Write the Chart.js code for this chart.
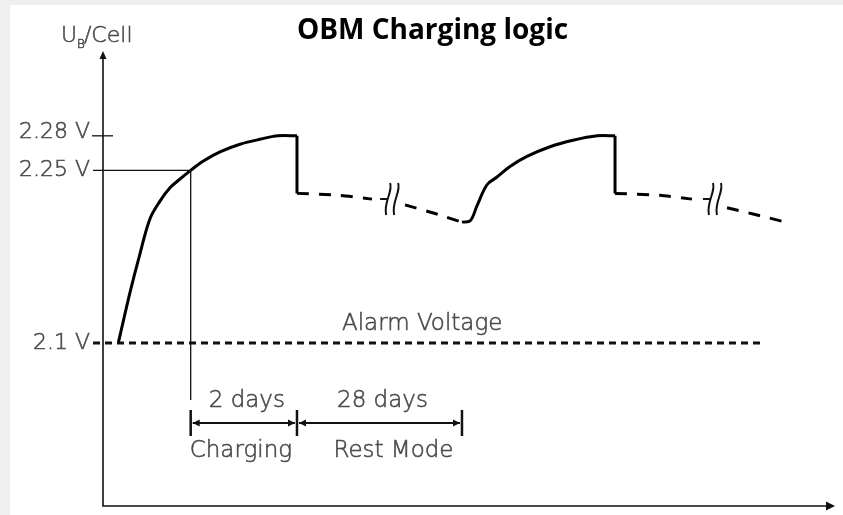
<!DOCTYPE html>
<html><head><meta charset="utf-8">
<script src="https://cdn.jsdelivr.net/npm/chart.js@4.4.1/dist/chart.umd.min.js"></script>
<style>
html,body{margin:0;padding:0;background:#efefef;width:843px;height:515px;overflow:hidden}
#wrap{position:absolute;left:10px;top:5px;width:833px;height:510px;background:#fff}
</style></head><body>
<div id="wrap"><canvas id="c"></canvas></div>
<script>
// Time axis in schematic units (0..100); voltage per cell in V
const charge1T = [2.09, 3.69, 5.05, 6.42, 7.79, 9.15, 10.52, 11.98, 13.66, 15.98, 18.72, 21.45, 23.91, 26.5];
const charge1V = [2.10, 2.144, 2.1775, 2.208, 2.2233, 2.2348, 2.2425, 2.25, 2.2579, 2.2661, 2.2727, 2.2770, 2.28, 2.28];
const drop1T = [26.5, 26.5];
const drop1V = [2.28, 2.23];
const rest1T = [26.5, 32.38, 36.75, 41.26, 45.36, 49.04];
const rest1V = [2.23, 2.2283, 2.225, 2.22, 2.2125, 2.205];
const charge2T = [49.04, 50.2, 51.09, 52.46, 53.83, 55.6, 57.92, 61.07, 64.2, 67.5, 69.95];
const charge2V = [2.205, 2.2065, 2.2192, 2.2375, 2.2442, 2.2533, 2.2621, 2.2705, 2.2761, 2.28, 2.28];
const drop2T = [69.95, 69.95];
const drop2V = [2.28, 2.23];
const rest2T = [69.95, 76.09, 80.46, 85.25, 89.07, 92.76];
const rest2V = [2.23, 2.2283, 2.225, 2.2175, 2.2117, 2.2058];
const breakT = [39.5, 83.6];
const breakV = [2.2225, 2.2225];

const yTickValues = [2.1, 2.25, 2.28];
const yTickLabels = ['2.1 V', '2.25 V', '2.28 V'];
const crossT = 11.98;           // charging curve reaches 2.25 V
const crossV = 2.25;
const alarmV = 2.1;
const alarmEndT = 90.4;
const alarmLabelT = 43.6;
const alarmLabel = 'Alarm Voltage';
const periodBounds = [11.98, 26.5, 49.04];
const periodTop = ['2 days', '28 days'];
const periodBottom = ['Charging', 'Rest Mode'];
const titleText = 'OBM Charging logic';
const yAxisLabel = ['U', 'B', '/Cell'];

function zip(ts, vs, gaps) {
  const pts = [];
  for (let i = 0; i < ts.length; i++) {
    if (gaps && i > 0) {
      for (const g of gaps) {
        if (ts[i - 1] < g && ts[i] > g) pts.push({x: g, y: null});
      }
    }
    pts.push({x: ts[i], y: vs[i]});
  }
  return pts;
}

const solid = {borderColor: '#000', borderWidth: 3, pointRadius: 0, fill: false};
const dashed = {borderColor: '#000', borderWidth: 3, pointRadius: 0, fill: false, borderDash: [12, 10], spanGaps: false};

const FONT = '"DejaVu Sans", sans-serif';
const GRAY = '#4a4a4a';

function label(ctx, text, x, y) {
  ctx.fillText(text, x, y);
  ctx.strokeText(text, x, y);
}

const diagram = {
  id: 'diagram',
  afterDraw(chart) {
    const ctx = chart.ctx, xs = chart.scales.x, ys = chart.scales.y, ca = chart.chartArea;
    const X = t => xs.getPixelForValue(t), Y = v => ys.getPixelForValue(v);
    ctx.save();
    ctx.strokeStyle = '#111'; ctx.fillStyle = '#111';
    // axes
    ctx.lineWidth = 1.6;
    ctx.beginPath();
    ctx.moveTo(ca.left, ca.top + 3); ctx.lineTo(ca.left, ca.bottom); ctx.lineTo(ca.right - 4, ca.bottom);
    ctx.stroke();
    ctx.beginPath();
    ctx.moveTo(ca.left, ca.top - 2); ctx.lineTo(ca.left - 3.5, ca.top + 6); ctx.lineTo(ca.left + 3.5, ca.top + 6); ctx.closePath(); ctx.fill();
    ctx.beginPath();
    ctx.moveTo(ca.right, ca.bottom); ctx.lineTo(ca.right - 9, ca.bottom - 4.5); ctx.lineTo(ca.right - 9, ca.bottom + 4.5); ctx.closePath(); ctx.fill();

    // 2.28 tick
    ctx.lineWidth = 1.3;
    ctx.beginPath(); ctx.moveTo(ca.left - 11, Y(2.28)); ctx.lineTo(ca.left + 10, Y(2.28)); ctx.stroke();
    // 2.25 line & vertical marker
    ctx.beginPath(); ctx.moveTo(ca.left - 10, Y(crossV)); ctx.lineTo(X(crossT), Y(crossV));
    ctx.lineTo(X(crossT), ca.bottom - 106); ctx.stroke();
    // alarm line
    ctx.lineWidth = 3;
    ctx.setLineDash([7, 5]);
    ctx.beginPath(); ctx.moveTo(ca.left - 10, Y(alarmV)); ctx.lineTo(X(alarmEndT), Y(alarmV)); ctx.stroke();
    ctx.setLineDash([]);

    // break symbols
    ctx.strokeStyle = '#111'; ctx.lineWidth = 2;
    breakT.forEach((t, i) => {
      const bx = X(t), by = Y(breakV[i]) - 3;
      for (const off of [-4, 4]) {
        const x = bx + off;
        ctx.beginPath();
        ctx.moveTo(x + 2, by - 16);
        ctx.bezierCurveTo(x + 5, by - 7, x - 5, by + 3, x - 2, by + 16);
        ctx.stroke();
      }
      ctx.beginPath(); ctx.moveTo(bx - 12, by); ctx.lineTo(bx - 5, by); ctx.stroke();
    });

    // dimension lines
    const dimY = ca.bottom - 83;
    periodBounds.forEach(t => {
      ctx.lineWidth = 2.5;
      ctx.beginPath(); ctx.moveTo(X(t), dimY - 13); ctx.lineTo(X(t), dimY + 13); ctx.stroke();
    });
    ctx.fillStyle = '#111';
    for (let i = 0; i < periodBounds.length - 1; i++) {
      const x1 = X(periodBounds[i]) + 2, x2 = X(periodBounds[i + 1]) - 2;
      ctx.lineWidth = 2;
      ctx.beginPath(); ctx.moveTo(x1, dimY); ctx.lineTo(x2, dimY); ctx.stroke();
      ctx.beginPath(); ctx.moveTo(x1, dimY); ctx.lineTo(x1 + 7, dimY - 3.5); ctx.lineTo(x1 + 7, dimY + 3.5); ctx.closePath(); ctx.fill();
      ctx.beginPath(); ctx.moveTo(x2, dimY); ctx.lineTo(x2 - 7, dimY - 3.5); ctx.lineTo(x2 - 7, dimY + 3.5); ctx.closePath(); ctx.fill();
    }

    // light gray texts
    ctx.fillStyle = GRAY; ctx.strokeStyle = GRAY; ctx.lineWidth = 0.55;
    // y tick labels
    ctx.font = '300 22px ' + FONT;
    ctx.textAlign = 'right'; ctx.textBaseline = 'middle';
    yTickValues.forEach((v, i) => {
      const dy = v === 2.28 ? -4 : 0;
      label(ctx, yTickLabels[i], ca.left - 13, Y(v) + dy);
    });
    ctx.textAlign = 'center';
    ctx.font = '300 23px ' + FONT;
    label(ctx, alarmLabel, X(alarmLabelT), Y(alarmV) - 19);
    const botOff = [-3, 14];
    for (let i = 0; i < periodTop.length; i++) {
      const mid = (X(periodBounds[i]) + X(periodBounds[i + 1])) / 2;
      label(ctx, periodTop[i], mid + 3, dimY - 22);
      label(ctx, periodBottom[i], mid + botOff[i], dimY + 28);
    }
    // axis label U_B/Cell
    let ux = ca.left - 42, uy = ca.top - 11;
    ctx.textAlign = 'left'; ctx.textBaseline = 'alphabetic';
    ctx.font = '300 22px ' + FONT;
    label(ctx, yAxisLabel[0], ux, uy); ux += ctx.measureText(yAxisLabel[0]).width;
    ctx.font = '300 12px ' + FONT;
    label(ctx, yAxisLabel[1], ux, uy + 6); ux += ctx.measureText(yAxisLabel[1]).width - 1;
    ctx.font = '300 22px ' + FONT;
    label(ctx, yAxisLabel[2], ux, uy);

    // title
    ctx.fillStyle = '#000'; ctx.textAlign = 'center'; ctx.textBaseline = 'middle';
    ctx.font = 'bold 28px "Open Sans", sans-serif';
    ctx.fillText(titleText, chart.width / 2 + 6, 26);
    ctx.restore();
  }
};

new Chart(document.getElementById('c'), {
  type: 'line',
  data: {
    datasets: [
      {...solid, data: zip(charge1T, charge1V), tension: 0.35},
      {...solid, data: zip(drop1T, drop1V), tension: 0},
      {...dashed, data: zip(rest1T, rest1V, breakT), tension: 0.2},
      {...solid, data: zip(charge2T, charge2V), tension: 0.35},
      {...solid, data: zip(drop2T, drop2V), tension: 0},
      {...dashed, data: zip(rest2T, rest2V, breakT), tension: 0.2}
    ]
  },
  options: {
    responsive: true, maintainAspectRatio: false, animation: false,
    layout: {padding: {left: 93, right: 8, top: 48, bottom: 9}},
    plugins: {legend: {display: false}, title: {display: false}, tooltip: {enabled: false}},
    scales: {
      x: {type: 'linear', min: 0, max: 100, display: false},
      y: {type: 'linear', min: 1.95839, max: 2.35196, display: false}
    },
    elements: {point: {radius: 0}}
  },
  plugins: [diagram]
});
</script>
</body></html>
